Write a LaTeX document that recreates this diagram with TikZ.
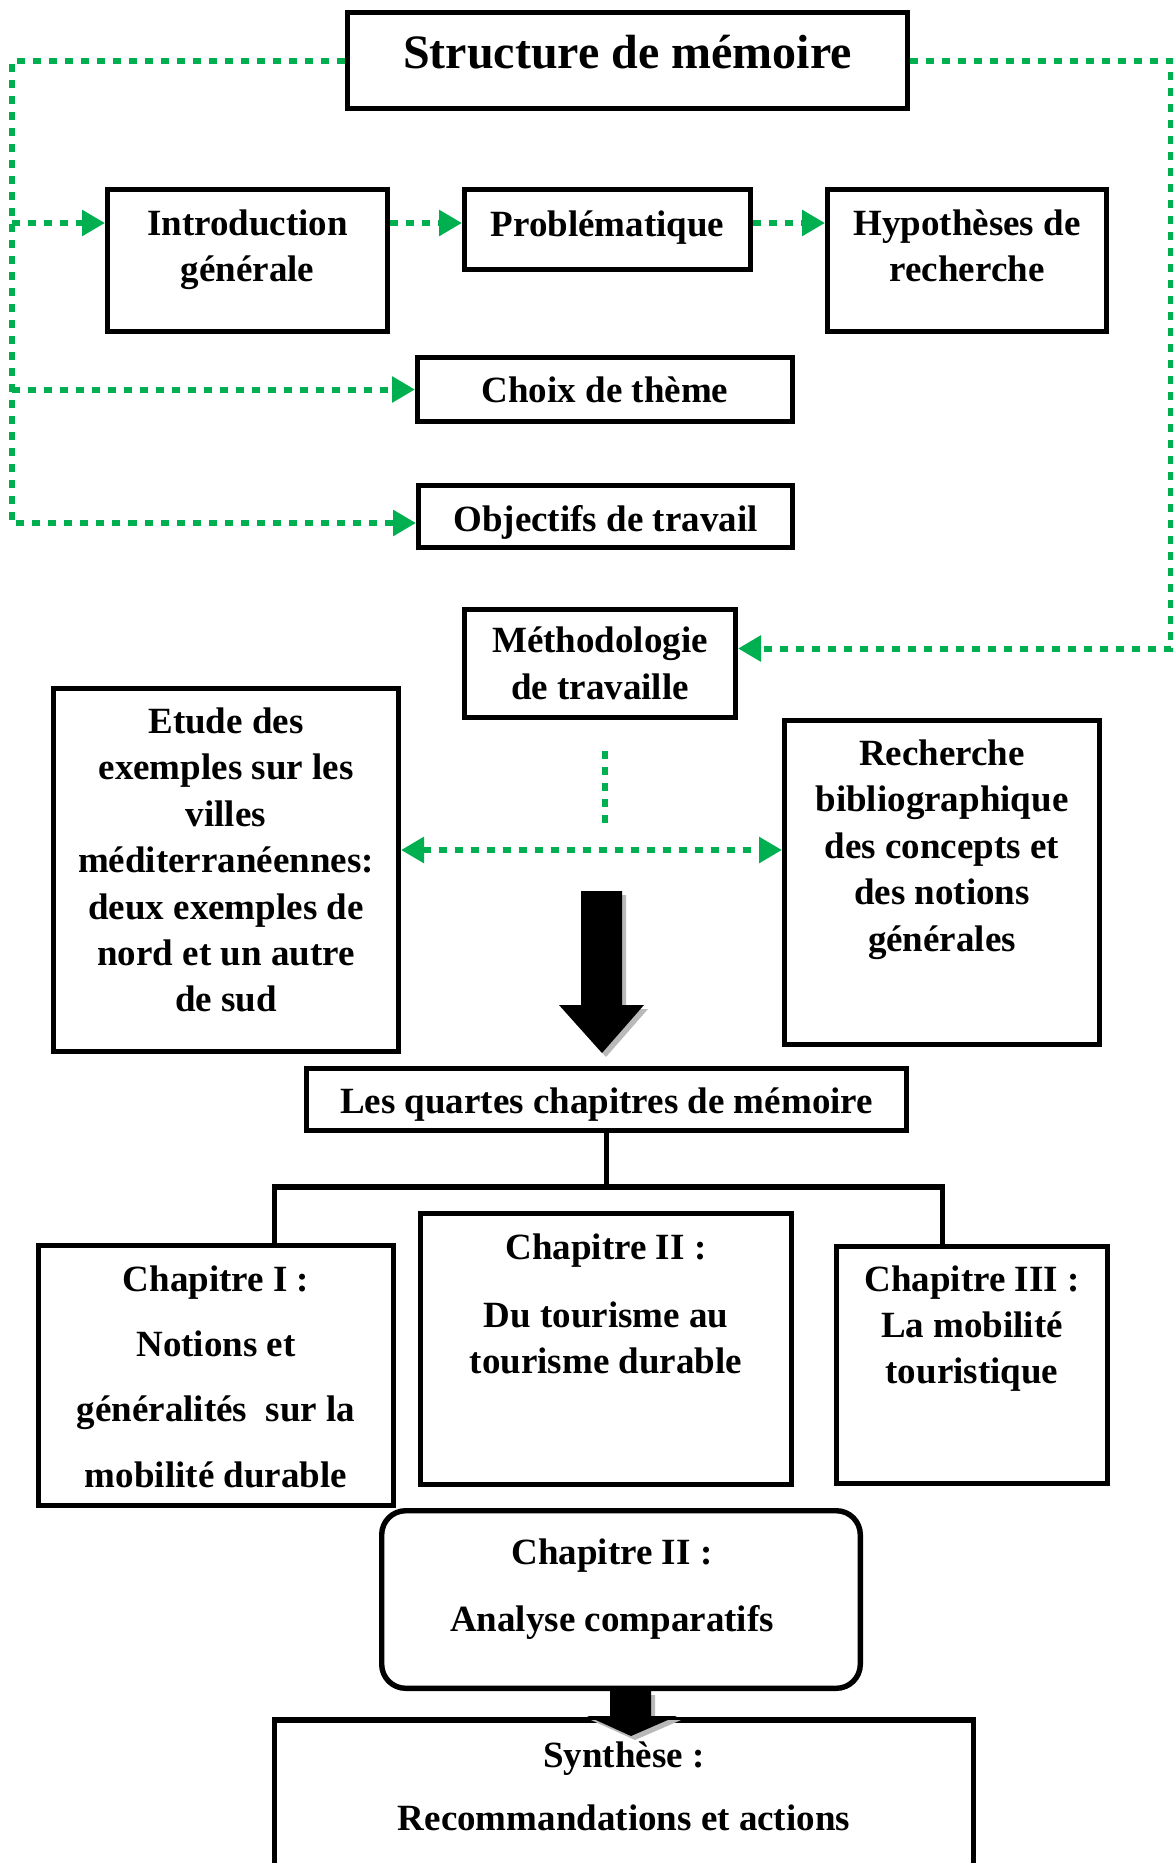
\documentclass[tikz,border=0pt]{standalone}
\usepackage{fontspec}
\setmainfont{Liberation Serif}
\usetikzlibrary{arrows.meta,calc,positioning}
\definecolor{vert}{RGB}{0,176,80}
\tikzset{cadre/.style={draw, line width=2.7pt, align=center, inner sep=0pt},
  mot/.style={align=center, inner sep=0pt},
  trait/.style={line width=2.6pt},
  lien/.style={draw=vert, line width=3pt, dash pattern=on 4pt off 4pt,
    >={Triangle[length=11.5pt,width=12.5pt]}}}

\begin{document}
\begin{tikzpicture}[x=0.5pt, y=-0.5pt, font=\bfseries\fontsize{18.5}{23.2}\selectfont]
  \clip (0,0) rectangle (1173,1863);
  % en-tete
  \node[cadre, minimum width=279.8pt, minimum height=47.8pt, text depth=9pt,
    font=\bfseries\fontsize{24}{28}\selectfont] (titre) at (627.5,60.5) {Structure de mémoire};
  \node[cadre, minimum width=139.8pt, minimum height=70.8pt] (intro) at (247.5,260.5) {};
  \node[mot, below=11.2pt of intro.north] (introt) {Introduction\\générale};
  \node[cadre, minimum width=142.8pt, minimum height=39.8pt, text depth=5.5pt] (prob) at (607.5,229.5) {Problématique};
  \node[cadre, minimum width=139.3pt, minimum height=70.8pt] (hyp) at (967,260.5) {};
  \node[mot, below=11.2pt of hyp.north] (hypt) {Hypothèses de\\recherche};
  \node[cadre, minimum width=187.3pt, minimum height=31.8pt] (choix) at (605,389.5) {Choix de thème};
  \node[cadre, minimum width=186.8pt, minimum height=30.8pt, text height=18.8pt] (obj) at (605.5,516.5) {Objectifs de travail};
  \node[cadre, minimum width=135.3pt, minimum height=53.8pt] (meth) at (600,663.5) {Méthodologie\\de travaille};
  % methodologie
  \node[cadre, minimum width=172.3pt, minimum height=181.3pt] (etude) at (226,870) {};
  \node[mot, below=10.7pt of etude.north] (etudet) {Etude des\\exemples sur les\\villes\\méditerranéennes:\\deux exemples de\\nord et un autre\\de sud};
  \node[cadre, minimum width=157.3pt, minimum height=161.8pt] (rech) at (942,882.5) {};
  \node[mot, below=10.7pt of rech.north] (recht) {Recherche\\bibliographique\\des concepts et\\des notions\\générales};
  % chapitres
  \node[cadre, minimum width=299.8pt, minimum height=30.8pt, text height=18pt] (quartes) at (606.5,1099.5) {Les quartes chapitres de mémoire};
  \node[cadre, minimum width=177.3pt, minimum height=129.8pt] (chap1) at (216,1375.5) {};
  \node[mot, below=11pt of chap1.north] (chap1t) {Chapitre I :\\[9.5pt]Notions et\\[9.5pt]généralités\ \ sur la\\[9.5pt]mobilité durable};
  \node[cadre, minimum width=185.3pt, minimum height=135.3pt] (chap2) at (606,1349) {};
  \node[mot, below=11pt of chap2.north] (chap2t) {Chapitre II :\\[10.9pt]Du tourisme au\\tourisme durable};
  \node[cadre, minimum width=135.3pt, minimum height=118.3pt] (chap3) at (972,1365) {};
  \node[mot, below=10.5pt of chap3.north] (chap3t) {Chapitre III :\\La mobilité\\touristique};
  \node[cadre, rounded corners=12pt, minimum width=239.3pt, minimum height=88.8pt] (analyse) at (621,1599.5) {};
  \node[mot, below=15.3pt of analyse.north, xshift=-4.5pt] (analyset) {Chapitre II :\\[10.3pt]Analyse comparatifs};
  \node[cadre, minimum width=349.3pt, minimum height=90pt] (synth) at (624,1810) {};
  \node[mot, below=11.8pt of synth.north] (syntht) {Synthèse :\\[8.5pt]Recommandations et actions};
  % liens verts
  \coordinate (lbus) at (12,0);
  \coordinate (rbus) at (1171,0);
  \coordinate (row1) at (0,223);
  \coordinate (hub) at (605,850);
  \coordinate (objin) at ($(obj.west)+(0,6.5)$);
  \coordinate (methin) at ($(meth.east)+(0,-15)$);
  \draw[lien,->] (titre.west) -| (lbus |- objin) -- (objin);
  \draw[lien,->] (lbus |- row1) -- (intro.west |- row1);
  \draw[lien,->] (lbus |- choix.west) -- (choix.west);
  \draw[lien,->] (intro.east |- row1) -- (prob.west |- row1);
  \draw[lien,->] (prob.east |- row1) -- (hyp.west |- row1);
  \draw[lien,->] (titre.east) -| (rbus |- methin) -- (methin);
  \draw[lien] ($(hub |- meth.south)+(0,31)$) -- ($(hub)+(0,-22)$);
  \draw[lien,<->] (hub -| etude.east) -- (hub -| rech.west);
  % arbre
  \coordinate (brL) at (274.5,1187);
  \coordinate (brR) at (942.5,1187);
  \draw[trait] (quartes.south) -- (quartes.south |- brL);
  \draw[trait] (brL |- chap1.north) -- (brL) -- (brR) -- (brR |- chap3.north);
  % grosses fleches
  \foreach \d/\c in {4/gray!55,0/black}{
    \fill[\c, shift={(\d,\d)}] (581,891) -- (622,891) -- (622,1005) -- (644,1005)
      -- (602,1053) -- (559,1005) -- (581,1005) -- cycle;
    \fill[\c, shift={(\d,\d)}] (610,1691) -- (651,1691) -- (651,1716) -- (677,1716)
      -- (631,1736) -- (587,1716) -- (610,1716) -- cycle;
  }
\end{tikzpicture}
\end{document}
